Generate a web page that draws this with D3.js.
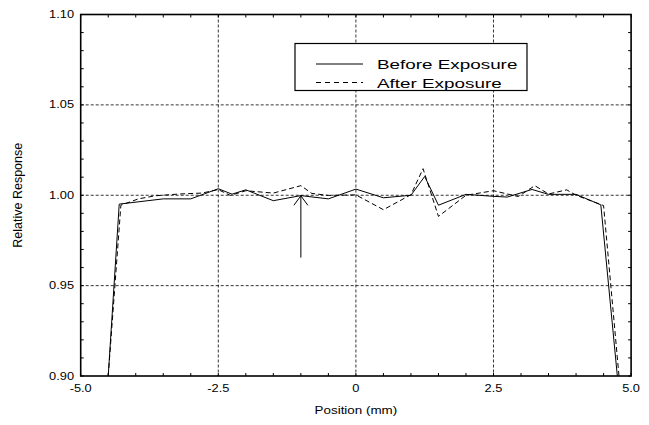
<!DOCTYPE html>
<html><head><meta charset="utf-8">
<script src="https://cdn.jsdelivr.net/npm/d3@7"></script>
<style>
body{margin:0;background:#fff}
text{font-family:"Liberation Sans",Arial,Helvetica,sans-serif;fill:#000}
</style>
</head><body>
<svg id="chart" width="649" height="425"></svg>
<script>
// Detector response profile across the slit, before and after exposure
const beforePos = [-4.5, -4.3, -3.5, -3.0, -2.5, -2.25, -2.0, -1.5, -1.0, -0.5, 0.0, 0.5, 1.0, 1.25, 1.5, 2.0, 2.5, 2.75, 3.2, 3.5, 4.0, 4.45, 4.75];
const beforeResp = [0.900, 0.9951, 0.9980, 0.9980, 1.0036, 1.0006, 1.0030, 0.9970, 0.9998, 0.9980, 1.0034, 0.9986, 1.0000, 1.0104, 0.9945, 1.0005, 0.9994, 0.9990, 1.0032, 1.0005, 1.0005, 0.9947, 0.900];
const afterPos = [-4.5, -4.27, -3.95, -3.65, -3.2, -2.8, -2.5, -2.28, -2.0, -1.5, -1.0, -0.8, -0.5, 0.0, 0.5, 1.0, 1.22, 1.5, 2.0, 2.5, 2.95, 3.25, 3.5, 3.83, 4.0, 4.5, 4.78];
const afterResp = [0.900, 0.9945, 0.9980, 0.9997, 1.0007, 1.0012, 1.0031, 0.9999, 1.0025, 1.0012, 1.0053, 1.0010, 0.9999, 1.0002, 0.9920, 1.0003, 1.0147, 0.9883, 1.0000, 1.0025, 0.9993, 1.0053, 1.0007, 1.0030, 1.0000, 0.9943, 0.900];

const seriesNames = ["Before Exposure", "After Exposure"];
const xTickValues = [-5.0, -2.5, 0.0, 2.5, 5.0];
const xTickLabels = ["-5.0", "-2.5", "0", "2.5", "5.0"];
const yTickValues = [0.90, 0.95, 1.00, 1.05, 1.10];
const yTickLabels = ["0.90", "0.95", "1.00", "1.05", "1.10"];
const xTitle = "Position (mm)";
const yTitle = "Relative Response";

// arrow marking the position of interest
const arrowPos = -1.0, arrowFrom = 0.9655, arrowTo = 0.9997;

const svg = d3.select("#chart");
const m = {left: 80.7, right: 631.1, top: 14.5, bottom: 376};
const x = d3.scaleLinear().domain([-5, 5]).range([m.left, m.right]);
const y = d3.scaleLinear().domain([0.90, 1.10]).range([m.bottom, m.top]);
const W = m.right - m.left, H = m.bottom - m.top;

// horizontally widened text
const SX = 1.22;
function label(g, px, py, str, size, anchor, sx, rot) {
  return g.append("text")
    .attr("transform", `translate(${px},${py})` + (rot ? ` rotate(${rot})` : "") + ` scale(${sx},1)`)
    .attr("text-anchor", anchor)
    .style("font-size", size + "px")
    .text(str);
}

svg.append("defs").append("clipPath").attr("id", "plotclip")
  .append("rect").attr("x", m.left).attr("y", m.top).attr("width", W).attr("height", H);

// grid
const grid = svg.append("g").attr("stroke", "#000").attr("stroke-width", 0.8).attr("stroke-dasharray", "3,2");
xTickValues.slice(1, -1).forEach(v => grid.append("line")
  .attr("x1", x(v)).attr("x2", x(v)).attr("y1", m.top).attr("y2", m.bottom));
yTickValues.slice(1, -1).forEach(v => grid.append("line")
  .attr("x1", m.left).attr("x2", m.right).attr("y1", y(v)).attr("y2", y(v)));

// inward ticks on all four sides
const minorX = d3.range(-5, 5.001, 0.5), minorY = d3.range(0.90, 1.1001, 0.01);
const ticks = svg.append("g").attr("stroke", "#000").attr("stroke-width", 1);
minorX.forEach(v => {
  ticks.append("line").attr("x1", x(v)).attr("x2", x(v)).attr("y1", m.bottom).attr("y2", m.bottom - 3);
  ticks.append("line").attr("x1", x(v)).attr("x2", x(v)).attr("y1", m.top).attr("y2", m.top + 3);
});
minorY.forEach(v => {
  ticks.append("line").attr("x1", m.left).attr("x2", m.left + 3).attr("y1", y(v)).attr("y2", y(v));
  ticks.append("line").attr("x1", m.right).attr("x2", m.right - 3).attr("y1", y(v)).attr("y2", y(v));
});

// data lines
const line = d3.line().x(d => x(d[0])).y(d => y(d[1]));
const plot = svg.append("g").attr("clip-path", "url(#plotclip)");
plot.append("path").datum(d3.zip(afterPos, afterResp)).attr("d", line)
  .attr("fill", "none").attr("stroke", "#000").attr("stroke-width", 1).attr("stroke-dasharray", "5,3");
plot.append("path").datum(d3.zip(beforePos, beforeResp)).attr("d", line)
  .attr("fill", "none").attr("stroke", "#000").attr("stroke-width", 1);

// arrow
const ax = x(arrowPos), ay0 = y(arrowFrom), ay1 = y(arrowTo);
const arr = svg.append("g").attr("stroke", "#000").attr("stroke-width", 1).attr("fill", "none");
arr.append("line").attr("x1", ax).attr("x2", ax).attr("y1", ay0).attr("y2", ay1);
arr.append("path").attr("d", `M${ax - 7},${ay1 + 9.5}L${ax},${ay1}L${ax + 7},${ay1 + 9.5}`);

// frame
svg.append("rect").attr("x", m.left).attr("y", m.top).attr("width", W).attr("height", H)
  .attr("fill", "none").attr("stroke", "#000").attr("stroke-width", 1.6);

// tick labels
const lab = svg.append("g");
xTickValues.forEach((v, i) => label(lab, x(v), 392, xTickLabels[i], 10.5, "middle", SX));
yTickValues.forEach((v, i) => label(lab, 74, y(v) + 3.5, yTickLabels[i], 10.5, "end", SX));

// axis titles
label(lab, (m.left + m.right) / 2, 414, xTitle, 11, "middle", SX);
label(lab, 22, (m.top + m.bottom) / 2, yTitle, 12.5, "middle", 1.0, -90);

// legend
const lg = svg.append("g");
lg.append("rect").attr("x", 295).attr("y", 43.5).attr("width", 232).attr("height", 47)
  .attr("fill", "#fff").attr("stroke", "#000").attr("stroke-width", 1.2);
lg.append("line").attr("x1", 316).attr("x2", 363).attr("y1", 64).attr("y2", 64)
  .attr("stroke", "#000").attr("stroke-width", 1);
lg.append("line").attr("x1", 316).attr("x2", 363).attr("y1", 82.5).attr("y2", 82.5)
  .attr("stroke", "#000").attr("stroke-width", 1).attr("stroke-dasharray", "5,4");
label(lg, 377, 68.5, seriesNames[0], 13, "start", 1.45);
label(lg, 377, 87.5, seriesNames[1], 13, "start", 1.45);
</script>
</body></html>
